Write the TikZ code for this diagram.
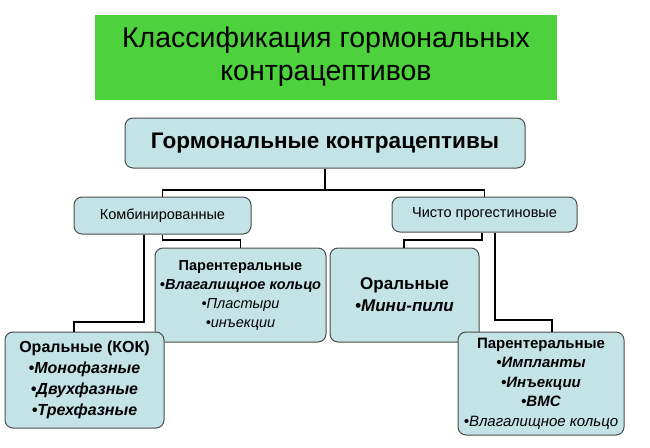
\documentclass[tikz,border=0pt]{standalone}
\usepackage{fontspec}
\setmainfont{Liberation Sans}
\begin{document}
\begin{tikzpicture}[x=1pt,y=-1pt,
  bx/.style={draw=black!70,line width=1pt,fill=boxc,rounded corners=8pt,align=center,inner sep=1pt},
  ln/.style={draw=black,line width=1.6pt}]
\definecolor{boxc}{HTML}{C3E3E6}
\definecolor{grn}{HTML}{4DD23E}
\useasboundingbox (0,0) rectangle (650,447);
\node[fill=grn,minimum width=462pt,minimum height=85pt,align=center,font=\fontsize{28.5}{33}\selectfont] (title) at (326,57) {Классификация гормональных\\контрацептивов};
\node[bx,minimum width=400pt,minimum height=50pt,font=\fontsize{22.5}{26}\selectfont\bfseries] (main) at (325,143) {Гормональные контрацептивы};
\node[bx,minimum width=177pt,minimum height=37pt,font=\fontsize{14.5}{17}\selectfont] (comb) at (162.5,215.5) {Комбинированные};
\node[bx,minimum width=185pt,minimum height=35pt,font=\fontsize{14.5}{17}\selectfont] (prog) at (484.5,214.5) {Чисто прогестиновые};
\node[bx,minimum width=171pt,minimum height=94pt,font=\fontsize{14.5}{19}\selectfont] (par1) at (240.5,295) {\textbf{Парентеральные}\\\textbf{\itshape •Влагалищное кольцо}\\\itshape •Пластыри\\\itshape •инъекции};
\node[bx,minimum width=149pt,minimum height=94pt,font=\fontsize{17}{22}\selectfont\bfseries] (oral2) at (404.5,295) {Оральные\\\itshape •Мини-пили};
\node[bx,minimum width=159pt,minimum height=96pt,font=\fontsize{16}{21}\selectfont\bfseries] (oral1) at (84.5,380) {Оральные (КОК)\\\itshape •Монофазные\\\itshape •Двухфазные\\\itshape •Трехфазные};
\node[bx,minimum width=166pt,minimum height=103pt,font=\fontsize{15}{19.5}\selectfont] (par2) at (541,383.5) {\textbf{Парентеральные}\\\textbf{\itshape •Импланты}\\\textbf{\itshape •Инъекции}\\\textbf{\itshape •ВМС}\\\itshape •Влагалищное кольцо};
\draw[ln] (main.south) -- (325,190) -| (comb.north);
\draw[ln] (325,190) -| (prog.north);
\draw[ln] (comb.south -| 144,0) |- (74,322) -- (oral1.north -| 74,0);
\draw[ln] (comb.south) -- (162.5,240) -| (par1.north);
\draw[ln] (prog.south -| 482,0) |- (404,240) -- (oral2.north -| 404,0);
\draw[ln] (prog.south -| 495,0) |- (552,320) -- (par2.north -| 552,0);
\end{tikzpicture}
\end{document}
